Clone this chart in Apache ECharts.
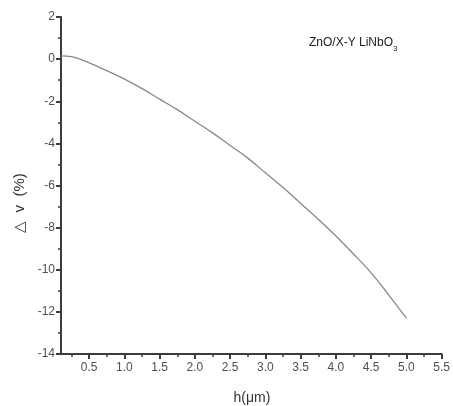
<!DOCTYPE html>
<html>
<head>
<meta charset="utf-8">
<script src="https://cdn.jsdelivr.net/npm/echarts@6/dist/echarts.min.js"></script>
<style>
  html, body { margin: 0; padding: 0; background: #fff; }
  #chart { width: 453px; height: 406px; }
</style>
</head>
<body>
<div id="chart"></div>
<script>
// 读图得到的数据
var hValues = [0.1, 0.25, 0.5, 0.75, 1.0, 1.25, 1.5, 1.75, 2.0, 2.25, 2.5, 2.75, 3.0, 3.25, 3.5, 3.75, 4.0, 4.25, 4.5, 4.75, 5.0];
var dvValues = [0.15, 0.12, -0.18, -0.55, -0.95, -1.4, -1.9, -2.4, -2.95, -3.5, -4.1, -4.7, -5.4, -6.1, -6.85, -7.6, -8.4, -9.25, -10.15, -11.2, -12.3];
var xTickLabels = [0.5, 1.0, 1.5, 2.0, 2.5, 3.0, 3.5, 4.0, 4.5, 5.0, 5.5];
var xMinorTicks = [0.25, 0.75, 1.25, 1.75, 2.25, 2.75, 3.25, 3.75, 4.25, 4.75, 5.25];

var chart = echarts.init(document.getElementById('chart'));

var axisColor = '#3c3c3c';
var labelStyle = { color: '#505050', fontSize: 12, fontFamily: 'Liberation Sans, Arial, sans-serif' };

var option = {
    animation: false,
    grid: { left: 61, right: 10, top: 17, bottom: 52 },
    xAxis: [
        {
            type: 'value',
            min: 0.1,
            max: 5.5,
            splitLine: { show: false },
            axisLine: { onZero: false, lineStyle: { color: axisColor, width: 2 } },
            axisTick: { customValues: xTickLabels, length: 5, lineStyle: { color: axisColor, width: 2 } },
            axisLabel: Object.assign({
                customValues: xTickLabels,
                margin: 8,
                formatter: function (v) { return v.toFixed(1); }
            }, labelStyle)
        },
        {
            // 次刻度
            type: 'value',
            position: 'bottom',
            min: 0.1,
            max: 5.5,
            splitLine: { show: false },
            axisLine: { show: false, onZero: false },
            axisTick: { customValues: xMinorTicks, length: 3, lineStyle: { color: axisColor, width: 1.5 } },
            axisLabel: { show: false }
        }
    ],
    yAxis: {
        type: 'value',
        min: -14,
        max: 2,
        interval: 2,
        splitLine: { show: false },
        axisLine: { show: true, onZero: false, lineStyle: { color: axisColor, width: 2 } },
        axisTick: { show: true, length: 5, lineStyle: { color: axisColor, width: 2 } },
        minorTick: { show: true, splitNumber: 2, length: 3, lineStyle: { color: axisColor, width: 1.5 } },
        axisLabel: Object.assign({ margin: 6 }, labelStyle)
    },
    graphic: [
        {
            type: 'text',
            left: 309,
            top: 37,
            style: {
                text: 'ZnO/X-Y LiNbO{sub|3}',
                fill: '#222',
                font: '12px Liberation Sans, Arial, sans-serif',
                rich: { sub: { fontSize: 8, padding: [11, 0, 0, 0], fill: '#222' } }
            }
        },
        {
            type: 'text',
            x: 252,
            y: 398,
            style: {
                text: 'h(\u03bcm)',
                fill: '#333',
                font: '14px Liberation Sans, Arial, sans-serif',
                align: 'center',
                verticalAlign: 'middle'
            }
        },
        {
            type: 'text',
            x: 20,
            y: 203,
            rotation: Math.PI / 2,
            style: {
                text: '\u25b3  v  (%)',
                fill: '#333',
                font: '15px Liberation Sans, Arial, sans-serif',
                align: 'center',
                verticalAlign: 'middle'
            }
        }
    ],
    series: [
        {
            type: 'line',
            smooth: 0.4,
            showSymbol: false,
            xAxisIndex: 0,
            lineStyle: { color: '#888', width: 1.3 },
            data: hValues.map(function (h, i) { return [h, dvValues[i]]; })
        }
    ]
};
option && chart.setOption(option);
</script>
</body>
</html>
